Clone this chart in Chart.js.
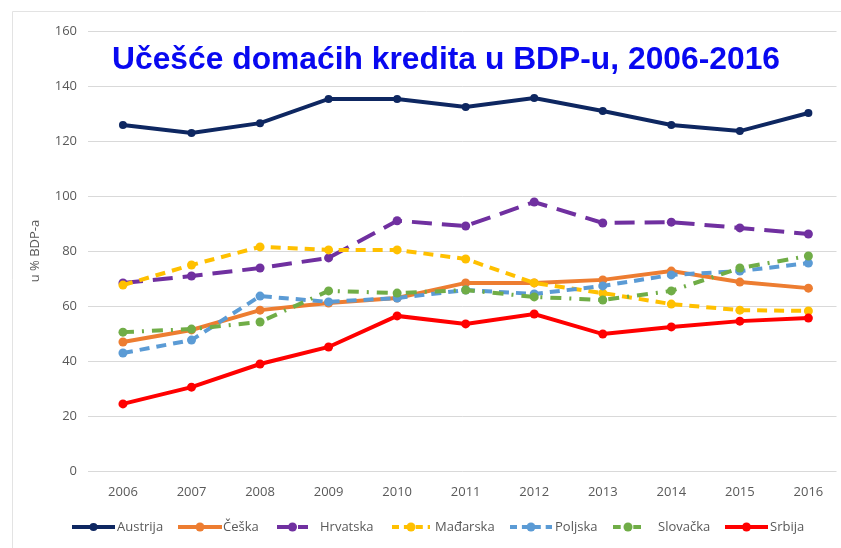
<!DOCTYPE html>
<html lang="sr">
<head>
    <meta charset="UTF-8">
    <title>Učešće domaćih kredita u BDP-u, 2006-2016</title>
    <script src="https://cdn.jsdelivr.net/npm/chart.js"></script>
    <style>
        body {
            margin: 0;
            padding: 0;
            background: white;
        }
        canvas {
            display: block;
        }
    </style>
</head>
<body>
    <canvas id="creditChart" width="841" height="548"></canvas>

    <script>
        // data (u % BDP-a)
        const years = [2006, 2007, 2008, 2009, 2010, 2011, 2012, 2013, 2014, 2015, 2016];
        const countries = ['Austrija', 'Češka', 'Hrvatska', 'Mađarska', 'Poljska', 'Slovačka', 'Srbija'];

        const Austrija = [125.8, 122.9, 126.5, 135.3, 135.3, 132.4, 135.6, 130.9, 125.8, 123.6, 130.2];
        const Ceska    = [46.9, 51.3, 58.5, 61.1, 62.9, 68.4, 68.4, 69.5, 72.7, 68.7, 66.5];
        const Hrvatska = [68.4, 70.9, 73.8, 77.5, 91.0, 89.1, 97.8, 90.2, 90.5, 88.4, 86.2];
        const Madjarska = [67.6, 74.9, 81.5, 80.4, 80.4, 77.1, 68.4, 64.7, 60.7, 58.5, 58.2];
        const Poljska  = [42.9, 47.6, 63.6, 61.5, 62.9, 65.8, 64.4, 67.3, 71.3, 72.7, 75.6];
        const Slovacka = [50.5, 51.6, 54.2, 65.5, 64.7, 65.8, 63.3, 62.2, 65.5, 73.8, 78.2];
        const Srbija   = [24.4, 30.5, 38.9, 45.1, 56.4, 53.5, 57.1, 49.8, 52.4, 54.5, 55.6];

        const yTicks = [0, 20, 40, 60, 80, 100, 120, 140, 160];

        const series = [Austrija, Ceska, Hrvatska, Madjarska, Poljska, Slovacka, Srbija];
        const colors = ['#0e2761', '#ed7d31', '#7030a0', '#ffc000', '#5b9bd5', '#70ad47', '#ff0000'];
        const dashes = [[], [], [20, 10], [10, 7], [10, 7], [11, 8, 2, 8], []];
        const radii = [4, 4.5, 4.5, 4.5, 4.5, 4.5, 4.5];

        // legend layout: start of line sample, end of line, start of text
        const legendPos = [
            [72, 115, 117], [178, 222, 223], [277, 308, 320], [392, 430, 435],
            [510, 552, 555], [613, 643, 658], [725, 768, 770]
        ];

        const font = "'Open Sans', sans-serif";
        const gray = '#595959';

        const datasets = countries.map((name, i) => ({
            label: name,
            data: years.map((yr, j) => ({ x: yr, y: series[i][j] })),
            borderColor: colors[i],
            backgroundColor: colors[i],
            borderWidth: 4,
            borderDash: dashes[i],
            pointRadius: radii[i],
            pointHoverRadius: radii[i],
            pointBorderWidth: 0,
            tension: 0,
            order: countries.length - i
        }));

        // frame + title + legend drawn straight on the canvas
        const decor = {
            id: 'decor',
            beforeDraw(chart) {
                const c = chart.ctx;
                c.save();
                c.fillStyle = 'white';
                c.fillRect(0, 0, chart.width, chart.height);
                c.strokeStyle = '#e3e3e3';
                c.lineWidth = 1;
                c.beginPath();
                c.moveTo(12.5, chart.height);
                c.lineTo(12.5, 11.5);
                c.lineTo(chart.width, 11.5);
                c.stroke();
                c.restore();
            },
            afterDraw(chart) {
                const c = chart.ctx;
                c.save();
                c.fillStyle = '#0808f0';
                c.font = "bold 32px 'Liberation Sans', Arial, sans-serif";
                c.textAlign = 'center';
                c.textBaseline = 'middle';
                c.fillText('Učešće domaćih kredita u BDP-u, 2006-2016', 446, 60, 668);

                const ly = 527;
                c.font = '13px ' + font;
                c.textAlign = 'left';
                countries.forEach((name, i) => {
                    const [x0, x1, tx] = legendPos[i];
                    c.strokeStyle = colors[i];
                    c.lineWidth = 4;
                    c.setLineDash(dashes[i].length ? dashes[i].map(d => d * 0.7) : []);
                    c.beginPath();
                    c.moveTo(x0, ly);
                    c.lineTo(x1, ly);
                    c.stroke();
                    c.setLineDash([]);
                    c.fillStyle = colors[i];
                    c.beginPath();
                    c.arc((x0 + x1) / 2, ly, radii[i], 0, Math.PI * 2);
                    c.fill();
                    c.fillStyle = gray;
                    c.fillText(name, tx, ly);
                });
                c.restore();
            }
        };

        new Chart(document.getElementById('creditChart'), {
            type: 'line',
            data: { datasets: datasets },
            options: {
                responsive: false,
                animation: false,
                layout: { padding: { left: 0, right: 1, top: 31, bottom: 37 } },
                plugins: {
                    legend: { display: false },
                    tooltip: { enabled: false }
                },
                scales: {
                    x: {
                        type: 'linear',
                        min: 2005.49,
                        max: 2016.41,
                        grid: { display: false },
                        border: { display: false },
                        afterBuildTicks: s => { s.ticks = years.map(v => ({ value: v })); },
                        afterFit: s => { s.height = 40; },
                        ticks: {
                            autoSkip: false,
                            padding: 5,
                            color: gray,
                            font: { family: font, size: 13 },
                            callback: v => String(v)
                        }
                    },
                    y: {
                        min: 0,
                        max: 160,
                        afterBuildTicks: s => { s.ticks = yTicks.map(v => ({ value: v })); },
                        afterFit: s => { s.width = 88; },
                        grid: { color: '#d9d9d9', lineWidth: 1, drawTicks: false },
                        border: { display: false },
                        ticks: {
                            padding: 11,
                            color: gray,
                            font: { family: font, size: 13 }
                        },
                        title: {
                            display: true,
                            text: 'u % BDP-a',
                            color: gray,
                            font: { family: font, size: 13 },
                            padding: { top: 27, bottom: 0 }
                        }
                    }
                }
            },
            plugins: [decor]
        });
    </script>
</body>
</html>
